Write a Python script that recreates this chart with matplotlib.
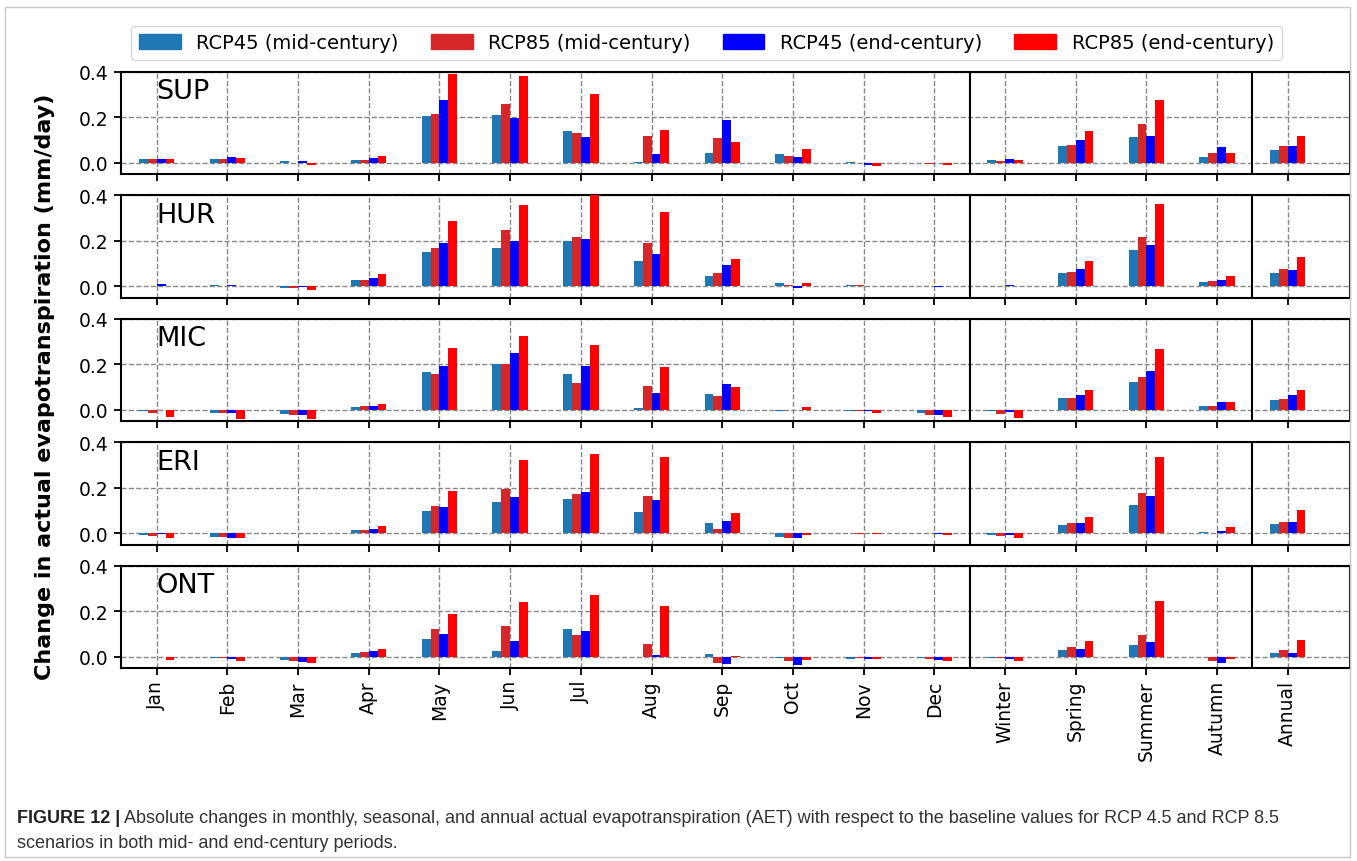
import matplotlib
matplotlib.use("Agg")
import matplotlib.pyplot as plt
from matplotlib.patches import Rectangle, Patch
import numpy as np

# periods on the x axis: 12 months, 4 seasons, annual
periods = ["Jan", "Feb", "Mar", "Apr", "May", "Jun", "Jul", "Aug", "Sep", "Oct",
           "Nov", "Dec", "Winter", "Spring", "Summer", "Autumn", "Annual"]
scenarios = ["RCP45 (mid-century)", "RCP85 (mid-century)",
             "RCP45 (end-century)", "RCP85 (end-century)"]
colors = ["tab:blue", "tab:red", "blue", "red"]
regions = ["SUP", "HUR", "MIC", "ERI", "ONT"]

# change in AET (mm/day), one list per scenario, in the order of `scenarios`
sup = [
    [0.015, 0.018, 0.009, 0.010, 0.204, 0.209, 0.140, 0.001, 0.043, 0.040, 0.001, 0.000, 0.010, 0.074, 0.113, 0.026, 0.056],
    [0.015, 0.015, -0.001, 0.013, 0.215, 0.256, 0.131, 0.118, 0.110, 0.031, -0.003, -0.004, 0.007, 0.078, 0.168, 0.044, 0.074],
    [0.017, 0.026, 0.009, 0.021, 0.275, 0.197, 0.115, 0.040, 0.187, 0.025, -0.010, -0.001, 0.016, 0.100, 0.118, 0.068, 0.074],
    [0.016, 0.022, -0.009, 0.029, 0.391, 0.379, 0.303, 0.143, 0.093, 0.059, -0.015, -0.010, 0.010, 0.140, 0.275, 0.044, 0.118],
]
hur = [
    [0.003, 0.004, -0.006, 0.028, 0.149, 0.168, 0.197, 0.111, 0.044, 0.013, 0.004, 0.000, 0.001, 0.057, 0.159, 0.019, 0.058],
    [0.003, 0.001, -0.009, 0.029, 0.169, 0.247, 0.215, 0.188, 0.057, 0.004, 0.006, 0.000, 0.000, 0.063, 0.216, 0.022, 0.076],
    [0.010, 0.006, -0.004, 0.036, 0.191, 0.199, 0.206, 0.140, 0.095, -0.007, 0.000, -0.004, 0.004, 0.076, 0.181, 0.029, 0.073],
    [0.000, 0.000, -0.015, 0.054, 0.285, 0.355, 0.410, 0.328, 0.118, 0.016, 0.000, 0.000, 0.000, 0.109, 0.359, 0.045, 0.127],
]
mic = [
    [-0.004, -0.015, -0.018, 0.012, 0.165, 0.200, 0.155, 0.007, 0.069, -0.007, -0.007, -0.013, -0.007, 0.053, 0.121, 0.018, 0.044],
    [-0.015, -0.016, -0.022, 0.015, 0.159, 0.200, 0.118, 0.104, 0.060, -0.003, -0.004, -0.022, -0.018, 0.051, 0.142, 0.018, 0.048],
    [-0.001, -0.015, -0.023, 0.016, 0.191, 0.250, 0.191, 0.072, 0.111, -0.003, -0.006, -0.022, -0.012, 0.063, 0.171, 0.032, 0.064],
    [-0.031, -0.041, -0.039, 0.026, 0.269, 0.323, 0.286, 0.187, 0.099, 0.010, -0.015, -0.032, -0.035, 0.085, 0.266, 0.032, 0.087],
]
eri = [
    [-0.009, -0.015, 0.000, 0.015, 0.096, 0.136, 0.149, 0.095, 0.044, -0.018, -0.001, 0.003, -0.007, 0.036, 0.126, 0.007, 0.039],
    [-0.012, -0.018, -0.001, 0.015, 0.120, 0.196, 0.171, 0.162, 0.019, -0.020, -0.003, 0.000, -0.012, 0.044, 0.175, -0.001, 0.051],
    [-0.004, -0.019, 0.000, 0.018, 0.114, 0.159, 0.182, 0.146, 0.054, -0.020, -0.001, -0.004, -0.010, 0.044, 0.164, 0.009, 0.050],
    [-0.022, -0.023, -0.001, 0.031, 0.187, 0.320, 0.350, 0.333, 0.089, -0.007, -0.004, -0.009, -0.020, 0.072, 0.333, 0.026, 0.104],
]
ont = [
    [0.000, -0.007, -0.013, 0.016, 0.080, 0.026, 0.123, 0.000, 0.010, -0.004, -0.012, -0.007, -0.004, 0.028, 0.050, 0.000, 0.018],
    [-0.001, -0.007, -0.018, 0.020, 0.120, 0.137, 0.096, 0.055, -0.028, -0.020, -0.006, -0.009, -0.007, 0.041, 0.096, -0.018, 0.028],
    [0.000, -0.010, -0.022, 0.023, 0.098, 0.067, 0.114, 0.006, -0.032, -0.036, -0.012, -0.015, -0.009, 0.032, 0.063, -0.026, 0.015],
    [-0.015, -0.020, -0.028, 0.036, 0.188, 0.242, 0.269, 0.225, 0.001, -0.016, -0.012, -0.018, -0.019, 0.067, 0.245, -0.010, 0.072],
]
region_data = [sup, hur, mic, eri, ont]

fig, axes = plt.subplots(5, 1, sharex=True, figsize=(13.57, 8.62), dpi=100)
fig.subplots_adjust(left=0.0889, right=0.9948, top=0.9157, bottom=0.2238, hspace=0.206)

x = np.arange(len(periods))
width = 0.125
for ax, name, data in zip(axes, regions, region_data):
    for i, (vals, col) in enumerate(zip(data, colors)):
        ax.bar(x + (i - 1.5) * width, vals, width, color=col, zorder=3)
    ax.set_ylim(-0.05, 0.4)
    ax.set_yticks([0.0, 0.2, 0.4])
    ax.set_yticklabels(["0.0", "0.2", "0.4"])
    ax.grid(True, linestyle="--", color="#888888", linewidth=1.0, zorder=0)
    ax.axvline(11.5, color="black", linewidth=1.5, zorder=4)
    ax.axvline(15.5, color="black", linewidth=1.5, zorder=4)
    for sp in ax.spines.values():
        sp.set_linewidth(1.5)
    ax.tick_params(axis="both", labelsize=13.5, width=1.3, length=5)
    ax.text(0, 0.74, name, fontsize=19.5, transform=ax.get_xaxis_transform(), va="baseline")

axes[-1].set_xlim(-0.51, 16.88)
axes[-1].set_xticks(x)
axes[-1].set_xticklabels(periods, rotation=90)

fig.text(0.033, 0.551, "Change in actual evapotranspiration (mm/day)", rotation=90,
         fontsize=16, fontweight="bold", ha="center", va="center")

handles = [Patch(color=c) for c in colors]
fig.legend(handles, scenarios, loc="center", bbox_to_anchor=(0.5206, 0.949), ncol=4,
           fontsize=14, handlelength=2.15, handleheight=0.8, columnspacing=1.65,
           edgecolor="#cccccc", fancybox=True)

# thin frame round the whole figure
fig.add_artist(Rectangle((5 / 1357, 4 / 862), 1345 / 1357, 850 / 862, transform=fig.transFigure,
                         fill=False, edgecolor="#c8c8c8", linewidth=1.0))

# caption: bold label followed by the plain text
renderer = fig.canvas.get_renderer()
cap_font = ["Liberation Sans", "DejaVu Sans"]
lab = fig.text(17 / 1357, 0.051, "FIGURE 12 |", family=cap_font, fontsize=13,
               fontweight="bold", color="#222222", va="center")
bb = lab.get_window_extent(renderer)
fig.text((bb.x1 + 4) / 1357, 0.051,
         "Absolute changes in monthly, seasonal, and annual actual evapotranspiration (AET) "
         "with respect to the baseline values for RCP 4.5 and RCP 8.5",
         family=cap_font, fontsize=13, color="#333333", va="center")
fig.text(17 / 1357, 0.022, "scenarios in both mid- and end-century periods.",
         family=cap_font, fontsize=13, color="#333333", va="center")

fig.savefig("out.png", dpi=100)
